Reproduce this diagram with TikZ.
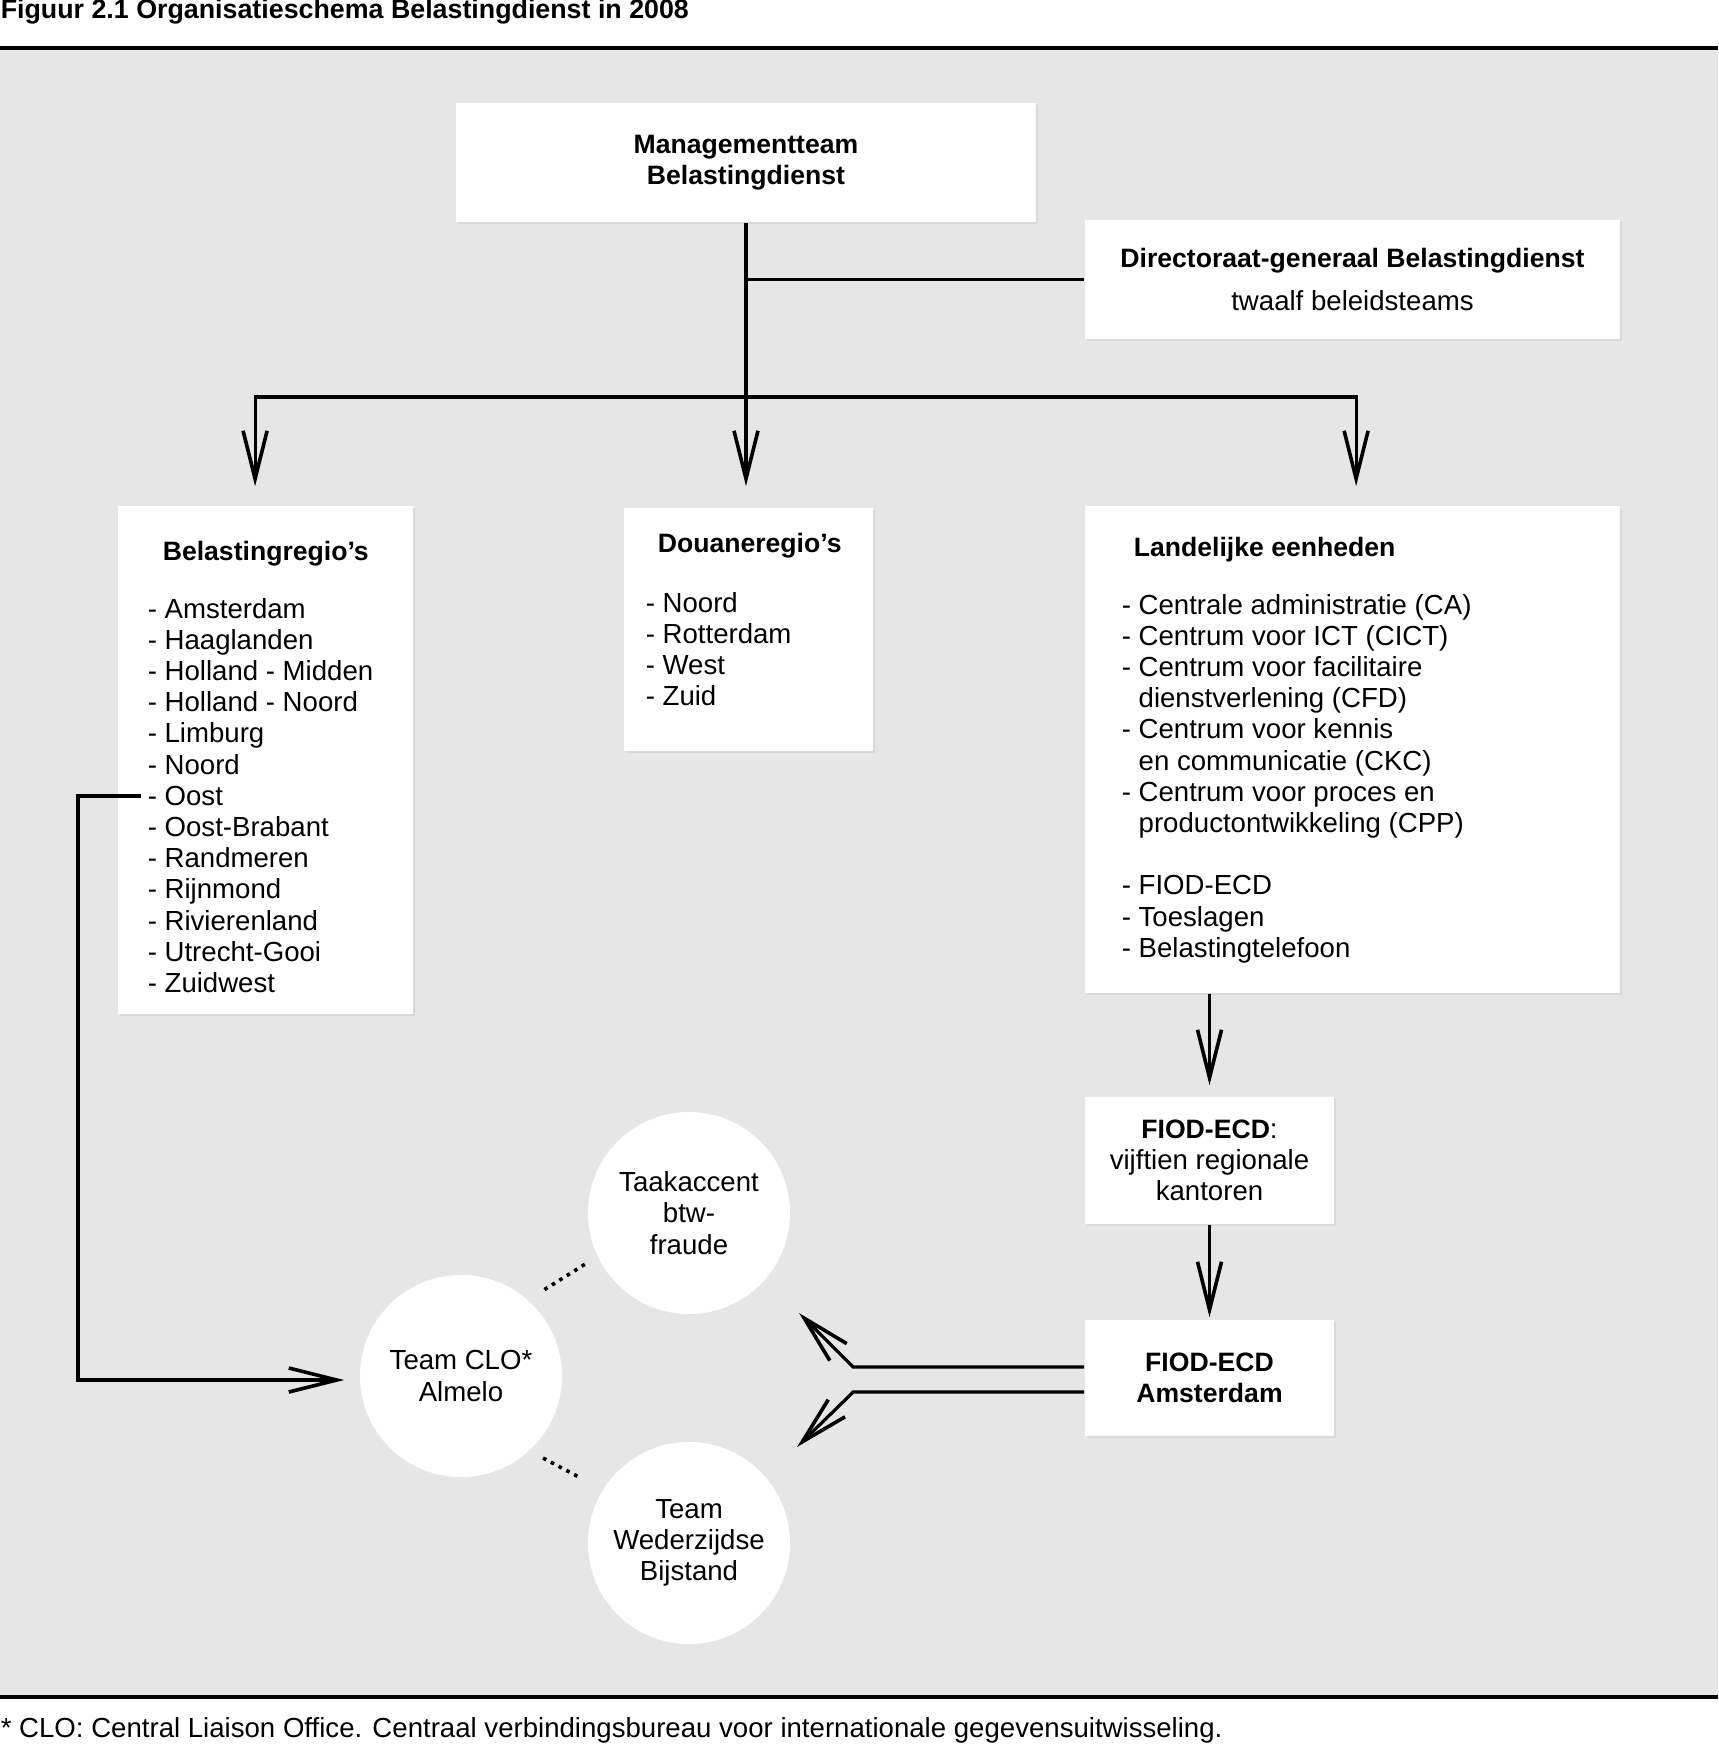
\documentclass[tikz,border=0pt]{standalone}
\usepackage{fontspec}
\setmainfont{Liberation Sans}
\usepackage{xcolor}
\usetikzlibrary{arrows.meta,calc,shadows}
\definecolor{bggrey}{RGB}{230,230,230}
\newcommand{\hd}[1]{{\fontsize{6.65}{7.8}\selectfont\bfseries #1}}

\begin{document}
\begin{tikzpicture}[x=0.25pt,y=-0.25pt,
    every node/.style={font=\fontsize{6.9}{7.8}\selectfont, inner sep=0pt},
    box/.style={fill=white, align=center, drop shadow={opacity=0.12, shadow xshift=0.4pt, shadow yshift=-0.4pt}},
    txt/.style={align=left, anchor=north west},
    conn/.style={line width=0.8pt},
    arr/.style={conn, -{Straight Barb[length=12pt,width=6pt,line width=0.9pt]}},
    bubble/.style={circle, fill=white, minimum size=50.5pt, align=center},
    dots/.style={line width=0.9pt, dash pattern=on 0.9pt off 1.3pt}]
      \useasboundingbox (0,0) rectangle (1718,1744);
      \fill[bggrey] (0,50) rectangle (1718,1696);
      \draw[conn] (0,48) -- (1718,48);
      \draw[conn] (0,1697) -- (1718,1697);
      \node[anchor=base west, font=\fontsize{6.7}{7.8}\selectfont\bfseries] (title) at (0,19) {Figuur 2.1 Organisatieschema Belastingdienst in 2008};
      \node[anchor=base west] (footnote) at (0,1737) {* CLO: Central Liaison Office. Centraal verbindingsbureau voor internationale gegevensuitwisseling.};

      \node[box, minimum width=145pt, minimum height=29.75pt] (mt) at (746,162.5) {\hd{Managementteam}\\\hd{Belastingdienst}};
      \node[box, minimum width=133.75pt, minimum height=29.75pt] (dg) at (1352.5,279.5) {\hd{Directoraat-generaal Belastingdienst}\\[3pt] twaalf beleidsteams};

      \node[box, minimum width=73.75pt, minimum height=127pt] (br) at (265.5,760) {};
      \node[box, minimum width=62.25pt, minimum height=60.75pt] (dr) at (748.5,629.5) {};
      \node[box, minimum width=133.75pt, minimum height=121.75pt] (le) at (1352.5,749.5) {};
      \node[txt] (brlist) at (147,540) {\hspace*{3.75pt}\hd{Belastingregio’s}\\[6.7pt]
        - Amsterdam\\ - Haaglanden\\ - Holland - Midden\\ - Holland - Noord\\ - Limburg\\ - Noord\\ - Oost\\
        - Oost-Brabant\\ - Randmeren\\ - Rijnmond\\ - Rivierenland\\ - Utrecht-Gooi\\ - Zuidwest};
      \node[txt] (drlist) at (645,532) {\hspace*{3pt}\hd{Douaneregio’s}\\[7.2pt]
        - Noord\\ - Rotterdam\\ - West\\ - Zuid};
      \node[txt] (lelist) at (1121,536) {\hspace*{3pt}\hd{Landelijke eenheden}\\[6.7pt]
        - Centrale administratie (CA)\\ - Centrum voor ICT (CICT)\\ - Centrum voor facilitaire\\
        \phantom{- }dienstverlening (CFD)\\ - Centrum voor kennis\\ \phantom{- }en communicatie (CKC)\\
        - Centrum voor proces en\\ \phantom{- }productontwikkeling (CPP)\\[7.8pt]
        - FIOD-ECD\\ - Toeslagen\\ - Belastingtelefoon};

      \node[box, minimum width=62.25pt, minimum height=31.75pt] (fv) at (1209.5,1160.5) {\hd{FIOD-ECD}:\\vijftien regionale\\kantoren};
      \node[box, minimum width=62.25pt, minimum height=29pt] (fa) at (1209.5,1378) {\hd{FIOD-ECD}\\\hd{Amsterdam}};

      \node[bubble] (taak) at (689,1213) {Taakaccent\\btw-\\fraude};
      \node[bubble] (clo) at (461,1376) {Team CLO*\\Almelo};
      \node[bubble] (wb) at (689,1543) {Team\\Wederzijdse\\Bijstand};

      \coordinate (split) at (746,397);
      \coordinate (oost) at (141,796);
      \coordinate (tipa) at (799,1313);
      \coordinate (tipb) at (797,1447);

      \draw[conn] (mt.south) -- (split);
      \draw[conn] (mt.south |- dg.west) -- (dg.west);
      \draw[arr, shorten >=4.75pt] (split) -| ([xshift=-2.6pt]br.north);
      \draw[arr, shorten >=5.25pt] (split) -- (split |- dr.north);
      \draw[arr, shorten >=4.75pt] (split) -| ([xshift=0.9pt]le.north);
      \draw[arr, shorten >=2.75pt] (fv.north |- le.south) -- (fv.north);
      \draw[arr, shorten >=0.5pt] (fv.south) -- (fa.north);
      \draw[arr, shorten >=3.75pt] (oost) -- ++(-63,0) |- ([yshift=-1pt]clo.west);
      \draw[arr] ([yshift=2.75pt]fa.west) -- ++(-231,0) -- (tipa);
      \draw[arr] ([yshift=-3.5pt]fa.west) -- ++(-231,0) -- (tipb);
      \draw[dots] ($(clo.center)!1.18!(clo.46)$) -- ($(taak.center)!1.1!(taak.206)$);
      \draw[dots] ($(clo.center)!1.14!(clo.-45)$) -- ($(wb.center)!1.23!(wb.149)$);
    \end{tikzpicture}
\end{document}
